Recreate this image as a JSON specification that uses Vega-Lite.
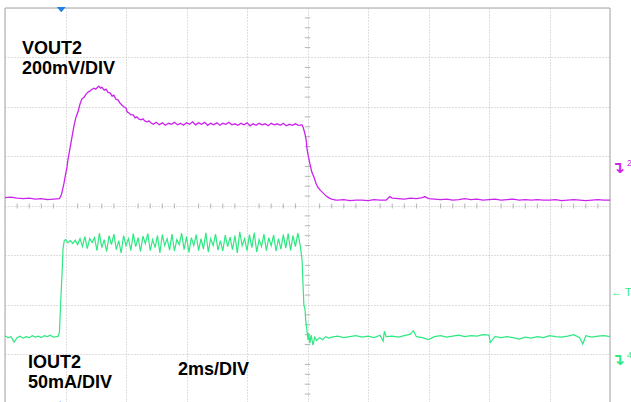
{
  "$schema": "https://vega.github.io/schema/vega-lite/v6.json",
  "width": 605,
  "height": 394,
  "autosize": "none",
  "padding": {"left": 5, "top": 8, "right": 21, "bottom": 0},
  "background": "white",
  "config": {
    "view": {"stroke": null},
    "axis": {"labels": false, "ticks": false, "domain": false, "title": null, "grid": true, "gridColor": "#bdbdbd", "gridDash": [1, 2], "gridWidth": 1}
  },
  "datasets": {
    "vout": [
      {"t":0,"v":0.17},{"t":0.1,"v":0.18},{"t":0.2,"v":0.16},{"t":0.3,"v":0.15},{"t":0.4,"v":0.16},{"t":0.5,"v":0.14},{"t":0.6,"v":0.15},{"t":0.7,"v":0.13},{"t":0.8,"v":0.14},{"t":0.9,"v":0.15},
      {"t":0.93,"v":0.22},{"t":0.95,"v":0.32},{"t":0.975,"v":0.46},{"t":1.0,"v":0.63},{"t":1.025,"v":0.79},{"t":1.04,"v":0.93},{"t":1.075,"v":1.17},{"t":1.11,"v":1.41},{"t":1.14,"v":1.62},{"t":1.17,"v":1.78},{"t":1.21,"v":1.92},{"t":1.24,"v":2.06},{"t":1.27,"v":2.16},{"t":1.31,"v":2.2},{"t":1.34,"v":2.26},{"t":1.37,"v":2.3},{"t":1.4,"v":2.32},{"t":1.44,"v":2.36},{"t":1.47,"v":2.38},{"t":1.5,"v":2.36},{"t":1.53,"v":2.4},{"t":1.55,"v":2.42},{"t":1.58,"v":2.38},{"t":1.6,"v":2.4},{"t":1.64,"v":2.34},{"t":1.67,"v":2.36},{"t":1.7,"v":2.3},{"t":1.74,"v":2.28},{"t":1.77,"v":2.22},{"t":1.8,"v":2.24},{"t":1.83,"v":2.16},{"t":1.87,"v":2.14},{"t":1.9,"v":2.08},{"t":1.93,"v":2.04},{"t":1.97,"v":2.0},{"t":2.0,"v":1.98},{"t":2.02,"v":1.9},{"t":2.05,"v":1.88},{"t":2.08,"v":1.84},{"t":2.12,"v":1.84},{"t":2.15,"v":1.78},{"t":2.18,"v":1.8},{"t":2.21,"v":1.76},{"t":2.25,"v":1.74},{"t":2.28,"v":1.76},{"t":2.31,"v":1.72},{"t":2.35,"v":1.7},{"t":2.38,"v":1.72},{"t":2.41,"v":1.68},
      {"t":2.45,"v":1.65},{"t":2.5,"v":1.69},{"t":2.55,"v":1.64},{"t":2.6,"v":1.68},{"t":2.65,"v":1.63},{"t":2.7,"v":1.67},{"t":2.75,"v":1.65},{"t":2.8,"v":1.69},{"t":2.85,"v":1.64},{"t":2.9,"v":1.67},{"t":2.95,"v":1.63},{"t":3.0,"v":1.68},{"t":3.05,"v":1.65},{"t":3.1,"v":1.7},{"t":3.15,"v":1.64},{"t":3.2,"v":1.68},{"t":3.25,"v":1.65},{"t":3.3,"v":1.69},{"t":3.35,"v":1.63},{"t":3.4,"v":1.67},{"t":3.45,"v":1.64},{"t":3.5,"v":1.68},{"t":3.55,"v":1.63},{"t":3.6,"v":1.67},{"t":3.65,"v":1.65},{"t":3.7,"v":1.69},{"t":3.75,"v":1.64},{"t":3.8,"v":1.66},{"t":3.85,"v":1.63},{"t":3.9,"v":1.67},{"t":3.95,"v":1.64},{"t":4.0,"v":1.68},{"t":4.05,"v":1.62},{"t":4.1,"v":1.66},{"t":4.15,"v":1.63},{"t":4.2,"v":1.67},{"t":4.25,"v":1.64},{"t":4.3,"v":1.66},{"t":4.35,"v":1.62},{"t":4.4,"v":1.67},{"t":4.45,"v":1.64},{"t":4.5,"v":1.66},{"t":4.55,"v":1.63},{"t":4.6,"v":1.67},{"t":4.65,"v":1.62},{"t":4.7,"v":1.65},{"t":4.75,"v":1.63},{"t":4.8,"v":1.66},{"t":4.85,"v":1.63},{"t":4.9,"v":1.64},
      {"t":4.91,"v":1.64},{"t":4.93,"v":1.58},{"t":4.96,"v":1.45},{"t":4.98,"v":1.31},{"t":4.99,"v":1.17},{"t":5.01,"v":1.03},{"t":5.04,"v":0.85},{"t":5.07,"v":0.69},{"t":5.11,"v":0.57},{"t":5.14,"v":0.46},{"t":5.17,"v":0.38},{"t":5.21,"v":0.32},{"t":5.26,"v":0.26},{"t":5.31,"v":0.2},{"t":5.36,"v":0.16},{"t":5.4,"v":0.14},{"t":5.47,"v":0.12},
      {"t":5.5,"v":0.12},{"t":5.6,"v":0.13},{"t":5.7,"v":0.11},{"t":5.8,"v":0.12},{"t":5.9,"v":0.12},{"t":6.0,"v":0.11},{"t":6.1,"v":0.13},{"t":6.2,"v":0.12},{"t":6.3,"v":0.12},{"t":6.36,"v":0.19},{"t":6.4,"v":0.16},{"t":6.5,"v":0.15},{"t":6.6,"v":0.14},{"t":6.7,"v":0.16},{"t":6.8,"v":0.15},{"t":6.9,"v":0.17},{"t":6.94,"v":0.19},{"t":7.0,"v":0.15},{"t":7.1,"v":0.14},{"t":7.2,"v":0.13},{"t":7.3,"v":0.14},{"t":7.4,"v":0.12},{"t":7.5,"v":0.13},{"t":7.6,"v":0.15},{"t":7.7,"v":0.13},{"t":7.8,"v":0.14},{"t":7.9,"v":0.12},{"t":8.0,"v":0.13},{"t":8.1,"v":0.14},{"t":8.2,"v":0.12},{"t":8.3,"v":0.13},{"t":8.4,"v":0.14},{"t":8.5,"v":0.12},{"t":8.6,"v":0.13},{"t":8.7,"v":0.12},{"t":8.8,"v":0.13},{"t":8.9,"v":0.12},{"t":9.0,"v":0.12},{"t":9.1,"v":0.13},{"t":9.2,"v":0.11},{"t":9.3,"v":0.12},{"t":9.4,"v":0.13},{"t":9.5,"v":0.12},{"t":9.6,"v":0.11},{"t":9.7,"v":0.12},{"t":9.8,"v":0.13},{"t":9.9,"v":0.12},{"t":10.0,"v":0.12}
    ],
    "iout": [
      {"t":0,"v":-2.62},{"t":0.05,"v":-2.66},{"t":0.1,"v":-2.64},{"t":0.15,"v":-2.75},{"t":0.2,"v":-2.66},{"t":0.25,"v":-2.63},{"t":0.3,"v":-2.67},{"t":0.35,"v":-2.64},{"t":0.4,"v":-2.66},{"t":0.45,"v":-2.62},{"t":0.5,"v":-2.65},{"t":0.55,"v":-2.63},{"t":0.6,"v":-2.66},{"t":0.65,"v":-2.62},{"t":0.7,"v":-2.64},{"t":0.75,"v":-2.61},{"t":0.8,"v":-2.65},{"t":0.85,"v":-2.64},{"t":0.88,"v":-2.63},
      {"t":0.9,"v":-2.55},{"t":0.92,"v":-1.95},{"t":0.94,"v":-1.45},{"t":0.96,"v":-0.85},{"t":0.98,"v":-0.7},
      {"t":1.0,"v":-0.68},{"t":1.04,"v":-0.74},{"t":1.08,"v":-0.7},{"t":1.12,"v":-0.76},{"t":1.16,"v":-0.69},{"t":1.2,"v":-0.78},{"t":1.24,"v":-0.66},{"t":1.28,"v":-0.82},{"t":1.32,"v":-0.62},{"t":1.36,"v":-0.86},{"t":1.4,"v":-0.66},{"t":1.44,"v":-0.74},{"t":1.48,"v":-0.64},{"t":1.52,"v":-0.9},{"t":1.56,"v":-0.55},{"t":1.6,"v":-0.84},{"t":1.64,"v":-0.68},{"t":1.68,"v":-0.92},{"t":1.72,"v":-0.6},{"t":1.76,"v":-0.78},{"t":1.8,"v":-0.57},{"t":1.84,"v":-0.88},{"t":1.88,"v":-0.7},{"t":1.92,"v":-0.95},{"t":1.96,"v":-0.6},{"t":2.0,"v":-0.8},{"t":2.04,"v":-0.66},{"t":2.08,"v":-0.9},{"t":2.12,"v":-0.56},{"t":2.16,"v":-0.82},{"t":2.2,"v":-0.64},{"t":2.24,"v":-0.92},{"t":2.28,"v":-0.61},{"t":2.32,"v":-0.76},{"t":2.36,"v":-0.56},{"t":2.4,"v":-0.9},{"t":2.44,"v":-0.68},{"t":2.48,"v":-0.84},{"t":2.52,"v":-0.6},{"t":2.56,"v":-0.95},{"t":2.6,"v":-0.58},{"t":2.64,"v":-0.8},{"t":2.68,"v":-0.66},{"t":2.72,"v":-0.89},{"t":2.76,"v":-0.57},{"t":2.8,"v":-0.91},{"t":2.84,"v":-0.68},{"t":2.88,"v":-0.78},{"t":2.92,"v":-0.55},{"t":2.96,"v":-0.88},{"t":3.0,"v":-0.62},{"t":3.04,"v":-0.94},{"t":3.08,"v":-0.64},{"t":3.12,"v":-0.8},{"t":3.16,"v":-0.58},{"t":3.2,"v":-0.9},{"t":3.24,"v":-0.66},{"t":3.28,"v":-0.87},{"t":3.32,"v":-0.54},{"t":3.36,"v":-0.93},{"t":3.4,"v":-0.66},{"t":3.44,"v":-0.8},{"t":3.48,"v":-0.57},{"t":3.52,"v":-0.89},{"t":3.56,"v":-0.7},{"t":3.6,"v":-0.91},{"t":3.64,"v":-0.59},{"t":3.68,"v":-0.82},{"t":3.72,"v":-0.63},{"t":3.76,"v":-0.88},{"t":3.8,"v":-0.6},{"t":3.84,"v":-0.95},{"t":3.88,"v":-0.52},{"t":3.92,"v":-0.8},{"t":3.96,"v":-0.66},{"t":4.0,"v":-0.9},{"t":4.04,"v":-0.58},{"t":4.08,"v":-0.84},{"t":4.12,"v":-0.54},{"t":4.16,"v":-0.93},{"t":4.2,"v":-0.68},{"t":4.24,"v":-0.82},{"t":4.28,"v":-0.57},{"t":4.32,"v":-0.9},{"t":4.36,"v":-0.64},{"t":4.4,"v":-0.8},{"t":4.44,"v":-0.59},{"t":4.48,"v":-0.91},{"t":4.52,"v":-0.66},{"t":4.56,"v":-0.87},{"t":4.6,"v":-0.58},{"t":4.64,"v":-0.85},{"t":4.68,"v":-0.56},{"t":4.72,"v":-0.9},{"t":4.76,"v":-0.6},{"t":4.8,"v":-0.82},{"t":4.84,"v":-0.55},{"t":4.88,"v":-0.8},
      {"t":4.91,"v":-1.09},{"t":4.93,"v":-1.7},{"t":4.94,"v":-2.0},{"t":4.96,"v":-2.1},{"t":4.97,"v":-2.3},{"t":4.99,"v":-2.51},{"t":5.01,"v":-2.71},{"t":5.02,"v":-2.57},{"t":5.04,"v":-2.77},{"t":5.06,"v":-2.61},{"t":5.09,"v":-2.81},{"t":5.12,"v":-2.65},{"t":5.15,"v":-2.72},{"t":5.2,"v":-2.66},{"t":5.25,"v":-2.7},{"t":5.3,"v":-2.64},{"t":5.35,"v":-2.67},
      {"t":5.4,"v":-2.65},{"t":5.5,"v":-2.63},{"t":5.6,"v":-2.66},{"t":5.7,"v":-2.64},{"t":5.8,"v":-2.62},{"t":5.9,"v":-2.65},{"t":6.0,"v":-2.63},{"t":6.1,"v":-2.66},{"t":6.2,"v":-2.61},{"t":6.25,"v":-2.73},{"t":6.27,"v":-2.53},{"t":6.3,"v":-2.64},{"t":6.4,"v":-2.63},{"t":6.5,"v":-2.65},{"t":6.6,"v":-2.62},{"t":6.7,"v":-2.59},{"t":6.75,"v":-2.52},{"t":6.8,"v":-2.64},{"t":6.9,"v":-2.66},{"t":7.0,"v":-2.7},{"t":7.1,"v":-2.64},{"t":7.2,"v":-2.62},{"t":7.3,"v":-2.65},{"t":7.4,"v":-2.63},{"t":7.5,"v":-2.61},{"t":7.6,"v":-2.64},{"t":7.7,"v":-2.62},{"t":7.8,"v":-2.63},{"t":7.9,"v":-2.6},{"t":8.0,"v":-2.61},{"t":8.02,"v":-2.76},{"t":8.1,"v":-2.64},{"t":8.2,"v":-2.66},{"t":8.3,"v":-2.64},{"t":8.4,"v":-2.66},{"t":8.5,"v":-2.69},{"t":8.6,"v":-2.65},{"t":8.7,"v":-2.67},{"t":8.8,"v":-2.64},{"t":8.9,"v":-2.66},{"t":9.0,"v":-2.62},{"t":9.1,"v":-2.64},{"t":9.2,"v":-2.65},{"t":9.3,"v":-2.63},{"t":9.4,"v":-2.6},{"t":9.5,"v":-2.66},{"t":9.55,"v":-2.79},{"t":9.6,"v":-2.62},{"t":9.7,"v":-2.65},{"t":9.8,"v":-2.63},{"t":9.9,"v":-2.62},{"t":10.0,"v":-2.64}
    ],
    "tx": [
      {"p":0.2},{"p":0.4},{"p":0.6},{"p":0.8},{"p":1.2},{"p":1.4},{"p":1.6},{"p":1.8},{"p":2.2},{"p":2.4},{"p":2.6},{"p":2.8},{"p":3.2},{"p":3.4},{"p":3.6},{"p":3.8},{"p":4.2},{"p":4.4},{"p":4.6},{"p":4.8},{"p":5.2},{"p":5.4},{"p":5.6},{"p":5.8},{"p":6.2},{"p":6.4},{"p":6.6},{"p":6.8},{"p":7.2},{"p":7.4},{"p":7.6},{"p":7.8},{"p":8.2},{"p":8.4},{"p":8.6},{"p":8.8},{"p":9.2},{"p":9.4},{"p":9.6},{"p":9.8}
    ],
    "ty": [
      {"p":-3.8},{"p":-3.6},{"p":-3.4},{"p":-3.2},{"p":-2.8},{"p":-2.6},{"p":-2.4},{"p":-2.2},{"p":-1.8},{"p":-1.6},{"p":-1.4},{"p":-1.2},{"p":-0.8},{"p":-0.6},{"p":-0.4},{"p":-0.2},{"p":0.2},{"p":0.4},{"p":0.6},{"p":0.8},{"p":1.2},{"p":1.4},{"p":1.6},{"p":1.8},{"p":2.2},{"p":2.4},{"p":2.6},{"p":2.8},{"p":3.2},{"p":3.4},{"p":3.6},{"p":3.8}
    ],
    "labels": [
      {"t":0.28,"v":3.07,"text":"VOUT2"},
      {"t":0.28,"v":2.66,"text":"200mV/DIV"},
      {"t":0.38,"v":-3.28,"text":"IOUT2"},
      {"t":0.38,"v":-3.68,"text":"50mA/DIV"},
      {"t":2.86,"v":-3.42,"text":"2ms/DIV"}
    ]
  },
  "layer": [
    {
      "data": {"values": [{}]},
      "mark": {"type": "rule", "color": "#c2c2c2", "strokeWidth": 1.5},
      "encoding": {"x": {"datum": 0, "type": "quantitative", "scale": {"domain": [0, 10], "nice": false, "zero": false}}}
    },
    {
      "data": {"values": [{}]},
      "mark": {"type": "rule", "color": "#c2c2c2", "strokeWidth": 1.5},
      "encoding": {"x": {"datum": 10, "type": "quantitative", "scale": {"domain": [0, 10], "nice": false, "zero": false}}}
    },
    {
      "data": {"values": [{}]},
      "mark": {"type": "rule", "color": "#c2c2c2", "strokeWidth": 1.5},
      "encoding": {"y": {"datum": 4, "type": "quantitative", "scale": {"domain": [-3.96, 4], "nice": false, "zero": false}}}
    },
    {
      "data": {"name": "tx"},
      "mark": {"type": "rule", "color": "#b4b4b4", "strokeWidth": 1},
      "encoding": {
        "x": {"field": "p", "type": "quantitative", "scale": {"domain": [0, 10], "nice": false, "zero": false}},
        "y": {"datum": -0.05, "type": "quantitative", "scale": {"domain": [-3.96, 4], "nice": false, "zero": false}},
        "y2": {"datum": 0.05}
      }
    },
    {
      "data": {"name": "ty"},
      "mark": {"type": "rule", "color": "#b4b4b4", "strokeWidth": 1},
      "encoding": {
        "y": {"field": "p", "type": "quantitative", "scale": {"domain": [-3.96, 4], "nice": false, "zero": false}},
        "x": {"datum": 4.955, "type": "quantitative", "scale": {"domain": [0, 10], "nice": false, "zero": false}},
        "x2": {"datum": 5.045}
      }
    },
    {
      "data": {"name": "vout"},
      "mark": {"type": "line", "color": "#cc22ee", "strokeWidth": 1.3},
      "encoding": {
        "x": {"field": "t", "type": "quantitative", "scale": {"domain": [0, 10], "nice": false, "zero": false}, "axis": {"values": [0,1,2,3,4,5,6,7,8,9,10]}},
        "y": {"field": "v", "type": "quantitative", "scale": {"domain": [-3.96, 4], "nice": false, "zero": false}, "axis": {"values": [-3,-2,-1,0,1,2,3,4]}}
      }
    },
    {
      "data": {"name": "iout"},
      "mark": {"type": "line", "color": "#2ee882", "strokeWidth": 1.2},
      "encoding": {
        "x": {"field": "t", "type": "quantitative", "scale": {"domain": [0, 10], "nice": false, "zero": false}},
        "y": {"field": "v", "type": "quantitative", "scale": {"domain": [-3.96, 4], "nice": false, "zero": false}}
      }
    },
    {
      "data": {"name": "labels"},
      "mark": {"type": "text", "font": "Liberation Sans", "fontSize": 18, "fontWeight": "bold", "color": "#000000", "align": "left", "baseline": "alphabetic"},
      "encoding": {
        "x": {"field": "t", "type": "quantitative", "scale": {"domain": [0, 10], "nice": false, "zero": false}},
        "y": {"field": "v", "type": "quantitative", "scale": {"domain": [-3.96, 4], "nice": false, "zero": false}},
        "text": {"field": "text"}
      }
    },
    {
      "data": {"values": [{"t": 0.93, "v": 3.97}]},
      "mark": {"type": "point", "shape": "M-1,-0.55L1,-0.55L0,0.6Z", "size": 81, "filled": true, "color": "#1e80e6", "opacity": 1},
      "encoding": {
        "x": {"field": "t", "type": "quantitative", "scale": {"domain": [0, 10], "nice": false, "zero": false}},
        "y": {"field": "v", "type": "quantitative", "scale": {"domain": [-3.96, 4], "nice": false, "zero": false}}
      }
    },
    {
      "data": {"values": [{"t": 0.91, "v": -3.98}]},
      "mark": {"type": "point", "shape": "M-1,0.6L1,0.6L0,-0.6Z", "size": 36, "filled": true, "color": "#1e80e6", "opacity": 1},
      "encoding": {
        "x": {"field": "t", "type": "quantitative", "scale": {"domain": [0, 10], "nice": false, "zero": false}},
        "y": {"field": "v", "type": "quantitative", "scale": {"domain": [-3.96, 4], "nice": false, "zero": false}}
      }
    },
    {
      "data": {"values": [{"t": 10.13, "v": 0.76, "text": "↴"}]},
      "mark": {"type": "text", "font": "DejaVu Sans", "fontSize": 16, "fontWeight": "bold", "color": "#cc22ee", "align": "center", "baseline": "middle"},
      "encoding": {
        "x": {"field": "t", "type": "quantitative", "scale": {"domain": [0, 10], "nice": false, "zero": false}},
        "y": {"field": "v", "type": "quantitative", "scale": {"domain": [-3.96, 4], "nice": false, "zero": false}},
        "text": {"field": "text"}
      }
    },
    {
      "data": {"values": [{"t": 10.28, "v": 0.87, "text": "2"}]},
      "mark": {"type": "text", "font": "Liberation Sans", "fontSize": 9, "color": "#cc22ee", "align": "left", "baseline": "middle"},
      "encoding": {
        "x": {"field": "t", "type": "quantitative", "scale": {"domain": [0, 10], "nice": false, "zero": false}},
        "y": {"field": "v", "type": "quantitative", "scale": {"domain": [-3.96, 4], "nice": false, "zero": false}},
        "text": {"field": "text"}
      }
    },
    {
      "data": {"values": [{"t": 10.13, "v": -3.12, "text": "↴"}]},
      "mark": {"type": "text", "font": "DejaVu Sans", "fontSize": 16, "fontWeight": "bold", "color": "#2ee882", "align": "center", "baseline": "middle"},
      "encoding": {
        "x": {"field": "t", "type": "quantitative", "scale": {"domain": [0, 10], "nice": false, "zero": false}},
        "y": {"field": "v", "type": "quantitative", "scale": {"domain": [-3.96, 4], "nice": false, "zero": false}},
        "text": {"field": "text"}
      }
    },
    {
      "data": {"values": [{"t": 10.28, "v": -3.01, "text": "4"}]},
      "mark": {"type": "text", "font": "Liberation Sans", "fontSize": 9, "color": "#2ee882", "align": "left", "baseline": "middle"},
      "encoding": {
        "x": {"field": "t", "type": "quantitative", "scale": {"domain": [0, 10], "nice": false, "zero": false}},
        "y": {"field": "v", "type": "quantitative", "scale": {"domain": [-3.96, 4], "nice": false, "zero": false}},
        "text": {"field": "text"}
      }
    },
    {
      "data": {"values": [{"t": 10.02, "v": -1.76, "text": "← T"}]},
      "mark": {"type": "text", "font": "Liberation Sans", "fontSize": 11, "color": "#2ee882", "align": "left", "baseline": "middle"},
      "encoding": {
        "x": {"field": "t", "type": "quantitative", "scale": {"domain": [0, 10], "nice": false, "zero": false}},
        "y": {"field": "v", "type": "quantitative", "scale": {"domain": [-3.96, 4], "nice": false, "zero": false}},
        "text": {"field": "text"}
      }
    }
  ]
}
